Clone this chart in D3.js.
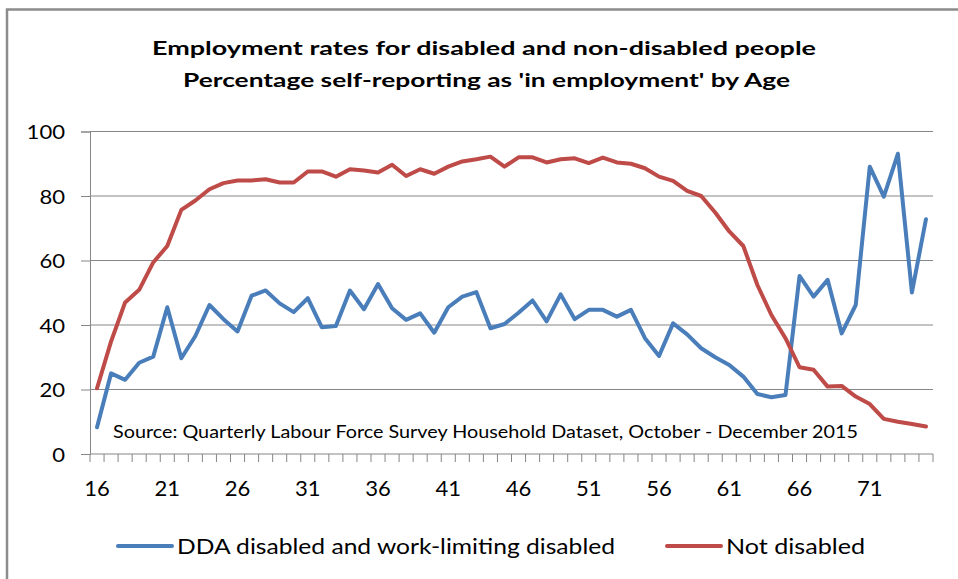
<!DOCTYPE html>
<html>
<head>
<meta charset="utf-8">
<script src="https://cdn.jsdelivr.net/npm/d3@7"></script>
<style>
  html, body { margin: 0; padding: 0; background: #fff; }
  svg { display: block; }
  text { font-family: Lato, "Open Sans", "Liberation Sans", Arial, sans-serif; fill: #000; }
</style>
</head>
<body>
<svg id="chart" width="958" height="579"></svg>
<script>
// Ages on the category axis
const ages = d3.range(16, 76);
const ageLabels = [16, 21, 26, 31, 36, 41, 46, 51, 56, 61, 66, 71];
const yTicks = [0, 20, 40, 60, 80, 100];

// Percentage in employment, by age
const disabled = [
  8.3, 25.0, 23.0, 28.3, 30.2, 45.5, 29.7, 36.6, 46.2, 41.8,
  38.0, 49.1, 50.7, 46.7, 44.0, 48.3, 39.3, 39.7, 50.7, 44.9,
  52.7, 45.2, 41.6, 43.6, 37.6, 45.5, 48.8, 50.2, 39.0, 40.3,
  43.8, 47.6, 41.1, 49.5, 41.8, 44.7, 44.7, 42.6, 44.7, 35.9,
  30.4, 40.5, 37.1, 32.8, 30.0, 27.6, 24.0, 18.6, 17.6, 18.3,
  55.2, 48.8, 54.0, 37.4, 46.2, 89.1, 79.8, 93.1, 50.1, 72.8
];
const notDisabled = [
  20.4, 34.9, 47.0, 50.9, 59.4, 64.5, 75.7, 78.6, 82.1, 84.0,
  84.8, 84.8, 85.2, 84.2, 84.2, 87.6, 87.6, 86.0, 88.3, 87.9,
  87.3, 89.7, 86.2, 88.3, 86.9, 89.1, 90.7, 91.4, 92.2, 89.1,
  92.0, 92.0, 90.4, 91.4, 91.7, 90.2, 91.9, 90.4, 90.0, 88.6,
  86.0, 84.7, 81.6, 80.0, 74.9, 69.0, 64.5, 52.4, 43.1, 35.9,
  26.9, 26.1, 20.9, 21.1, 17.8, 15.5, 10.9, 10.0, 9.3, 8.5
];

const seriesNames = ["DDA disabled and work-limiting disabled", "Not disabled"];
const seriesColors = ["#4a7ebb", "#be4b48"];
const titleLines = [
  "Employment rates for disabled and  non-disabled people",
  "Percentage self-reporting as 'in employment' by Age"
];
const sourceNote = "Source: Quarterly Labour Force Survey Household Dataset, October - December 2015";

const svg = d3.select("#chart");
const plot = { left: 90, right: 933, top: 131.5, bottom: 454 };
const gridColor = "#868686";
const digitWidth = 12.8;

// Outer chart frame (runs off the right and bottom edges)
svg.append("rect")
  .attr("x", 7).attr("y", 9.5)
  .attr("width", 1000).attr("height", 700)
  .attr("fill", "none")
  .attr("stroke", "#8c8c8c")
  .attr("stroke-width", 2.5);

const x = d3.scaleBand().domain(ages).range([plot.left, plot.right]).padding(0);
const y = d3.scaleLinear().domain([0, 100]).range([plot.bottom, plot.top]);
const cx = a => x(a) + x.bandwidth() / 2;

// Title, two centred lines
const titleLayout = [
  { x: 152, y: 55, w: 664 },
  { x: 183, y: 87, w: 607 }
];
svg.selectAll("text.title")
  .data(titleLines)
  .join("text")
  .attr("class", "title")
  .attr("x", (d, i) => titleLayout[i].x)
  .attr("y", (d, i) => titleLayout[i].y)
  .attr("font-size", 18.5)
  .attr("font-weight", "bold")
  .attr("textLength", (d, i) => titleLayout[i].w)
  .attr("lengthAdjust", "spacingAndGlyphs")
  .text(d => d);

// Horizontal gridlines
svg.append("g")
  .selectAll("line")
  .data(yTicks.filter(v => v > 0))
  .join("line")
  .attr("x1", plot.left).attr("x2", plot.right)
  .attr("y1", d => y(d)).attr("y2", d => y(d))
  .attr("stroke", gridColor).attr("stroke-width", 1);

// Y axis
const yAxis = svg.append("g")
  .attr("transform", `translate(${plot.left},0)`)
  .call(d3.axisLeft(y).tickValues(yTicks).tickSize(9).tickPadding(16));
yAxis.select(".domain").attr("stroke", gridColor);
yAxis.selectAll(".tick line").attr("stroke", gridColor);
yAxis.selectAll(".tick text")
  .attr("font-size", 20)
  .attr("font-family", "Lato, Open Sans, Liberation Sans, Arial, sans-serif")
  .attr("fill", "#000")
  .attr("dy", "0.36em")
  .attr("textLength", d => String(d).length * digitWidth)
  .attr("lengthAdjust", "spacingAndGlyphs");

// X axis: line, category boundary ticks, labels every five years
svg.append("line")
  .attr("x1", plot.left).attr("x2", plot.right)
  .attr("y1", plot.bottom).attr("y2", plot.bottom)
  .attr("stroke", gridColor).attr("stroke-width", 1);

const boundaries = ages.map(a => x(a)).concat([x(ages[ages.length - 1]) + x.bandwidth()]);
svg.append("g")
  .selectAll("line")
  .data(boundaries)
  .join("line")
  .attr("x1", d => d).attr("x2", d => d)
  .attr("y1", plot.bottom).attr("y2", plot.bottom + 8)
  .attr("stroke", gridColor).attr("stroke-width", 1);

const xAxis = svg.append("g")
  .attr("transform", `translate(0,${plot.bottom})`)
  .call(d3.axisBottom(x).tickValues(ageLabels).tickSize(0));
xAxis.select(".domain").remove();
xAxis.selectAll(".tick text")
  .attr("y", 42)
  .attr("dy", 0)
  .attr("font-size", 21)
  .attr("font-family", "Lato, Open Sans, Liberation Sans, Arial, sans-serif")
  .attr("fill", "#000")
  .attr("textLength", d => String(d).length * digitWidth)
  .attr("lengthAdjust", "spacingAndGlyphs");

// Source note inside the plot
svg.append("text")
  .attr("x", 113)
  .attr("y", 438)
  .attr("font-size", 17.5)
  .attr("textLength", 745)
  .attr("lengthAdjust", "spacingAndGlyphs")
  .attr("fill", "#1a1a1a")
  .text(sourceNote);

// Series lines
const line = d3.line()
  .x((d, i) => cx(ages[i]))
  .y(d => y(d));

[disabled, notDisabled].forEach((vals, k) => {
  svg.append("path")
    .datum(vals)
    .attr("d", line)
    .attr("fill", "none")
    .attr("stroke", seriesColors[k])
    .attr("stroke-width", 4)
    .attr("stroke-linejoin", "round")
    .attr("stroke-linecap", "round");
});

// Legend
const legendItems = [
  { name: seriesNames[0], color: seriesColors[0], x: 118, w: 438 },
  { name: seriesNames[1], color: seriesColors[1], x: 667, w: 139 }
];
const lg = svg.append("g").selectAll("g")
  .data(legendItems)
  .join("g")
  .attr("transform", d => `translate(${d.x},546)`);
lg.append("line")
  .attr("x1", 0).attr("x2", 54)
  .attr("y1", 0).attr("y2", 0)
  .attr("stroke", d => d.color)
  .attr("stroke-width", 4)
  .attr("stroke-linecap", "round");
lg.append("text")
  .attr("x", 59)
  .attr("y", 7.5)
  .attr("font-size", 22)
  .attr("textLength", d => d.w)
  .attr("lengthAdjust", "spacingAndGlyphs")
  .text(d => d.name);
</script>
</body>
</html>
